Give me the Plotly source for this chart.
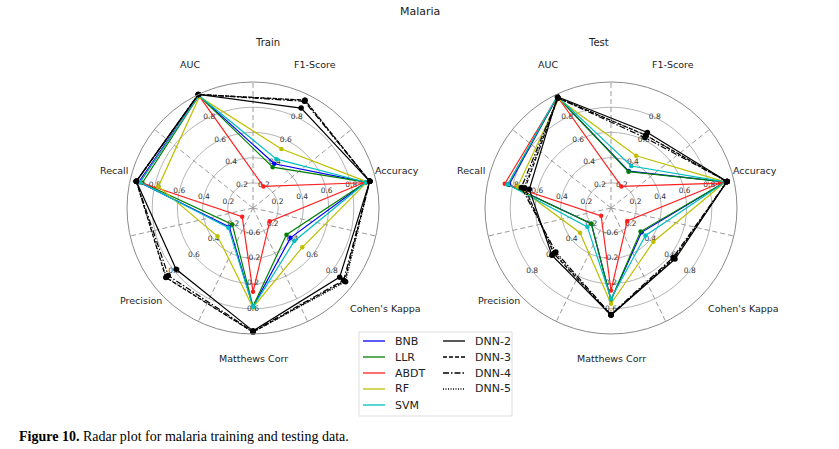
import plotly.graph_objects as go

# ---------------- data ----------------
categories = ['Accuracy', 'F1-Score', 'AUC', 'Recall', 'Precision', 'Matthews Corr', "Cohen's Kappa"]
models = ['BNB', 'LLR', 'ABDT', 'RF', 'SVM', 'DNN-2', 'DNN-3', 'DNN-4', 'DNN-5']

# order of values follows `categories`; Matthews Corr is on its own -1..1 scale
train_bnb = [0.92, 0.39, 0.99, 0.93, 0.24, 0.57, 0.38]
train_llr = [0.92, 0.36, 0.99, 0.90, 0.21, 0.56, 0.34]
train_abdt = [0.90, 0.19, 0.99, 0.92, 0.11, 0.33, 0.17]
train_rf = [0.93, 0.52, 0.98, 0.77, 0.36, 0.58, 0.50]
train_svm = [0.92, 0.43, 0.99, 0.92, 0.25, 0.57, 0.42]
train_dnn2 = [0.95, 0.88, 1.00, 0.95, 0.78, 0.95, 0.88]
train_dnn3 = [0.95, 0.95, 1.00, 0.95, 0.885, 0.97, 0.93]
train_dnn4 = [0.95, 0.94, 1.00, 0.95, 0.86, 0.96, 0.92]
train_dnn5 = [0.95, 0.95, 1.00, 0.95, 0.88, 0.97, 0.94]

test_bnb = [0.93, 0.325, 0.98, 0.83, 0.20, 0.46, 0.31]
test_llr = [0.93, 0.32, 0.98, 0.84, 0.20, 0.46, 0.30]
test_abdt = [0.89, 0.19, 0.98, 0.865, 0.10, 0.31, 0.165]
test_rf = [0.93, 0.46, 0.96, 0.76, 0.315, 0.52, 0.43]
test_svm = [0.93, 0.37, 0.985, 0.84, 0.24, 0.44, 0.35]
test_dnn2 = [0.945, 0.665, 0.98, 0.665, 0.60, 0.70, 0.65]
test_dnn3 = [0.945, 0.64, 0.97, 0.70, 0.58, 0.70, 0.64]
test_dnn4 = [0.945, 0.62, 0.97, 0.73, 0.56, 0.69, 0.63]
test_dnn5 = [0.94, 0.64, 0.975, 0.71, 0.57, 0.70, 0.64]

tick_values = [0.2, 0.4, 0.6, 0.8]
mcc_tick_labels = ['-0.6', '-0.2', '0.2', '0.6']

# ---------------- styles ----------------
colors = ['#0000ff', '#008000', '#ff2020', '#bfbf00', '#00bfbf', 'black', 'black', 'black', 'black']
dashes = ['solid'] * 6 + ['4px,2px', '6px,2px,1.5px,2px', '1px,1.5px']
msizes = [4.5] * 5 + [5.5] * 4
MCC_IDX = categories.index('Matthews Corr')
FONT = 'DejaVu Sans'
# pixel offsets of the category labels from each radar's centre (layout only)
label_offsets = [(144, -38), (62, -143), (-63, -143), (-139.5, -38), (-112, 92), (0, 150), (132, 100)]

n = len(categories)
base = 90.0 / n
cat_theta = [base + i * 360.0 / n for i in range(n)]
mid_theta = [base + (i + 0.5) * 360.0 / n for i in range(n)]


def to_radius(vals):
    return [(v + 1) / 2 if i == MCC_IDX else v for i, v in enumerate(vals)]


train = [train_bnb, train_llr, train_abdt, train_rf, train_svm, train_dnn2, train_dnn3, train_dnn4, train_dnn5]
test = [test_bnb, test_llr, test_abdt, test_rf, test_svm, test_dnn2, test_dnn3, test_dnn4, test_dnn5]

fig = go.Figure()

for polar, dataset in [('polar', train), ('polar2', test)]:
    # dashed spokes
    sr, st = [], []
    for t in mid_theta:
        sr += [0, 1, None]
        st += [t, t, None]
    fig.add_trace(go.Scatterpolar(r=sr, theta=st, mode='lines', subplot=polar, showlegend=False,
                                  hoverinfo='skip', line=dict(color='#9a9a9a', width=1, dash='5px,3px')))
    # per-axis tick labels
    tr, tt, tx = [], [], []
    for i, t in enumerate(cat_theta):
        for j, v in enumerate(tick_values):
            tr.append(v)
            tt.append(t)
            tx.append(mcc_tick_labels[j] if i == MCC_IDX else f'{v:.1f}')
    fig.add_trace(go.Scatterpolar(r=tr, theta=tt, text=tx, mode='text', subplot=polar, showlegend=False,
                                  hoverinfo='skip', textfont=dict(size=7.5, color='#333333', family=FONT)))
    # data
    for k, (m, vals) in enumerate(zip(models, dataset)):
        rr = to_radius(vals)
        fig.add_trace(go.Scatterpolar(
            r=rr + [rr[0]], theta=cat_theta + [cat_theta[0]], mode='lines+markers', name=m,
            subplot=polar, showlegend=False, cliponaxis=False,
            line=dict(color=colors[k], width=1.2, dash=dashes[k]),
            marker=dict(color=colors[k], size=msizes[k])))

W, H = 839, 449
R = 126
centers = [(253, 208), (611, 208)]


def dom(cx, cy):
    return dict(x=[(cx - R) / W, (cx + R) / W], y=[(H - cy - R) / H, (H - cy + R) / H])


polar_style = dict(
    bgcolor='white',
    radialaxis=dict(range=[0, 1], tickvals=[0.2, 0.4, 0.6, 0.8, 1.0], showticklabels=False, ticks='',
                    showline=False, gridcolor='#b5b5b5', gridwidth=1),
    angularaxis=dict(thetaunit='degrees', rotation=0, direction='counterclockwise',
                     tickmode='array', tickvals=cat_theta, showticklabels=False, ticks='',
                     showgrid=False, showline=True, linecolor='#8a8a8a', linewidth=1),
)

# manual legend (two columns, as in the reference)
shapes = [dict(type='rect', xref='paper', yref='paper', x0=359 / W, x1=512 / W,
               y0=(H - 416) / H, y1=(H - 332) / H, line=dict(color='#dddddd', width=1),
               fillcolor='white', layer='below')]
annotations = []
leg_rows = [341, 357, 373, 389, 405]
for k, m in enumerate(models):
    col, row = (0, k) if k < 5 else (1, k - 5)
    x0 = 363 if col == 0 else 443
    y = leg_rows[row]
    shapes.append(dict(type='line', xref='paper', yref='paper', x0=x0 / W, x1=(x0 + 22) / W,
                       y0=(H - y) / H, y1=(H - y) / H,
                       line=dict(color=colors[k], width=1.3, dash=dashes[k])))
    annotations.append(dict(text=m, x=(x0 + 30) / W, y=(H - y) / H, xref='paper', yref='paper',
                            xanchor='left', yanchor='middle', showarrow=False,
                            font=dict(size=11, family=FONT, color='#222222')))

# category labels around each radar
for cx, cy in centers:
    for cat, (dx, dy) in zip(categories, label_offsets):
        annotations.append(dict(text=cat, x=(cx + dx) / W, y=(H - cy - dy) / H, xref='paper', yref='paper',
                                xanchor='center', yanchor='middle', showarrow=False,
                                font=dict(size=9.5, family=FONT, color='#222222')))

annotations += [
    dict(text='Malaria', x=420 / W, y=(H - 12) / H, xref='paper', yref='paper', showarrow=False,
         yanchor='middle', font=dict(size=11, family=FONT)),
    dict(text='Train', x=253 / W, y=(H - 42) / H, xref='paper', yref='paper', showarrow=False,
         yanchor='middle', font=dict(size=10, family=FONT)),
    dict(text='Test', x=611 / W, y=(H - 42) / H, xref='paper', yref='paper', showarrow=False,
         yanchor='middle', font=dict(size=10, family=FONT)),
    dict(text='<b>Figure 10.</b> Radar plot for malaria training and testing data.',
         x=17 / W, y=(H - 436) / H, xref='paper', yref='paper', xanchor='left', yanchor='middle',
         showarrow=False, font=dict(size=14, family='Liberation Serif', color='black')),
]

fig.update_layout(
    width=W, height=H, margin=dict(l=0, r=0, t=0, b=0),
    paper_bgcolor='white', plot_bgcolor='white', showlegend=False,
    font=dict(family=FONT, color='#222222'),
    polar=dict(domain=dom(*centers[0]), **polar_style),
    polar2=dict(domain=dom(*centers[1]), **polar_style),
    shapes=shapes,
    annotations=annotations,
)

fig.write_html('out.html')
